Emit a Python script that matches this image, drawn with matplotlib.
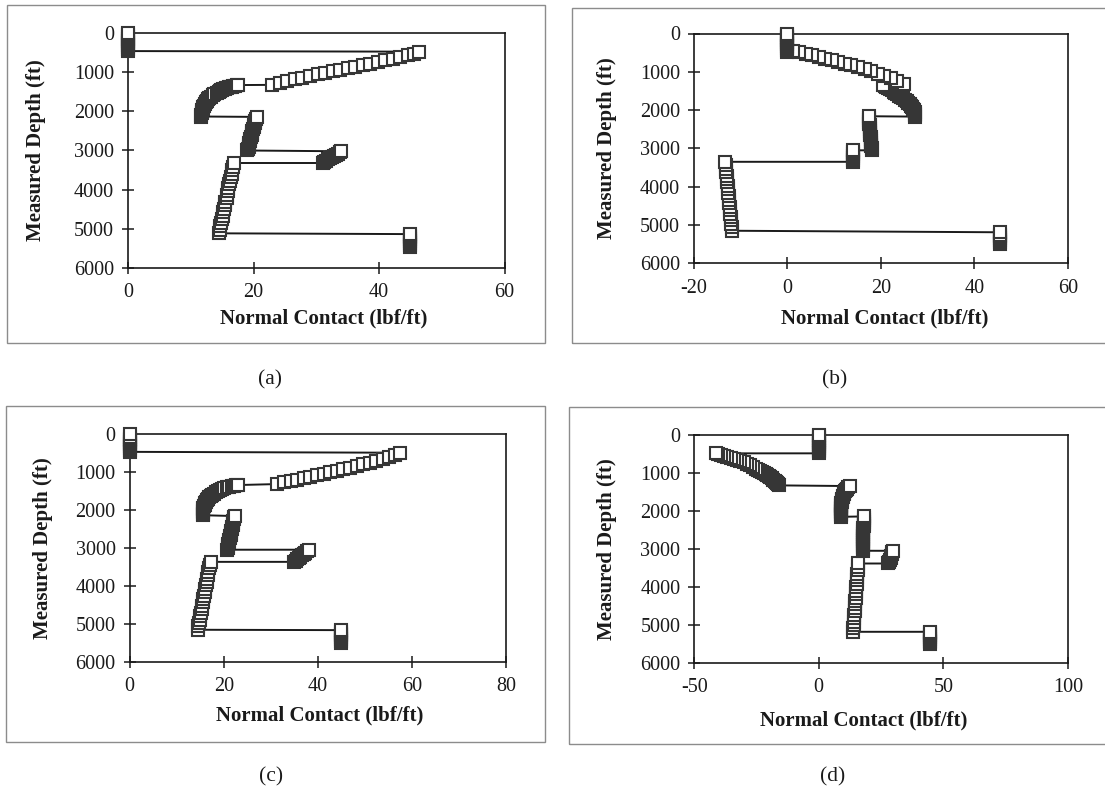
import matplotlib.pyplot as plt
from matplotlib.patches import Rectangle

plt.rcParams["font.family"] = ["Liberation Serif", "DejaVu Serif"]
plt.rcParams["axes.unicode_minus"] = False

# values listed from the bit (deepest) up to surface, one list pair per panel
depth_a = [5470, 5420, 5370, 5320, 5270, 5220, 5180, 5140,
           5120, 5030, 4940, 4850, 4760, 4670, 4580, 4490, 4400, 4310, 4220,
           4130, 4040, 3950, 3860, 3770, 3680, 3590, 3500, 3410, 3320,
           3320, 3290, 3260, 3230, 3200, 3170, 3140, 3110, 3080, 3050, 3020,
           3000, 2950, 2900, 2850, 2800, 2750, 2700, 2650, 2600, 2550, 2500,
           2450, 2400, 2350, 2300, 2250, 2200, 2140,
           2130, 2090, 2050, 2010, 1970, 1930, 1890, 1850, 1810, 1770, 1730,
           1692, 1655, 1620, 1585, 1552, 1520, 1490, 1476, 1462, 1449, 1436,
           1423, 1410, 1398, 1386, 1375, 1364, 1354, 1344, 1334, 1325,
           1320, 1268, 1220, 1175, 1132, 1090, 1050, 1010, 971, 932, 893, 854,
           815, 775, 735, 694, 652, 609, 565, 520, 470,
           455, 405, 355, 305, 255, 205, 155, 105, 55, 0]
force_a = [45.0, 45.0, 45.0, 45.0, 45.0, 45.0, 45.0, 45.0,
           14.5, 14.6, 14.7, 14.8, 15.0, 15.1, 15.2, 15.3, 15.4, 15.5, 15.7,
           15.8, 15.9, 16.0, 16.1, 16.3, 16.4, 16.5, 16.6, 16.8, 16.9,
           31.0, 31.3, 31.6, 31.9, 32.2, 32.5, 32.8, 33.1, 33.4, 33.7, 34.0,
           19.0, 19.1, 19.2, 19.3, 19.35, 19.4, 19.5, 19.6, 19.7, 19.75, 19.8,
           19.9, 20.0, 20.1, 20.2, 20.3, 20.4, 20.5,
           11.7, 11.7, 11.72, 11.75, 11.8, 11.88, 11.97, 12.08, 12.2, 12.35,
           12.52, 12.72, 12.95, 13.2, 13.48, 13.78, 14.1, 14.45, 14.63, 14.82,
           15.0, 15.2, 15.4, 15.6, 15.82, 16.05, 16.3, 16.55, 16.8, 17.05,
           17.32, 17.6,
           23.0, 24.2, 25.4, 26.6, 27.8, 29.0, 30.2, 31.4, 32.6, 33.8, 35.0,
           36.2, 37.4, 38.6, 39.8, 41.0, 42.2, 43.4, 44.6, 45.6, 46.4,
           0.0, 0.0, 0.0, 0.0, 0.0, 0.0, 0.0, 0.0, 0.0, 0.0]

depth_b = [5500, 5450, 5400, 5350, 5300, 5250, 5190,
           5150, 5060, 4970, 4880, 4790, 4700, 4610, 4520, 4430, 4340, 4250,
           4160, 4070, 3980, 3890, 3800, 3710, 3620, 3530, 3440, 3350,
           3350, 3300, 3250, 3200, 3150, 3100, 3050,
           3050, 3000, 2950, 2900, 2850, 2800, 2750, 2700, 2650, 2600, 2550,
           2500, 2450, 2400, 2350, 2300, 2250, 2200, 2160,
           2170, 2130, 2090, 2050, 2010, 1970, 1930, 1890, 1850, 1810, 1770,
           1730, 1692, 1655, 1620, 1585, 1550, 1515, 1482, 1450, 1420, 1392,
           1370, 1350,
           1322, 1240, 1170, 1105, 1045, 988, 935, 884, 835, 788, 742, 698,
           655, 612, 570, 528, 488, 450,
           480, 430, 380, 330, 280, 230, 180, 130, 80, 30, 0]
force_b = [45.5, 45.5, 45.5, 45.5, 45.5, 45.5, 45.5,
           -11.8, -11.9, -11.95, -12.0, -12.1, -12.2, -12.25, -12.3, -12.4,
           -12.45, -12.5, -12.6, -12.7, -12.75, -12.8, -12.9, -13.0, -13.05,
           -13.1, -13.2, -13.3,
           14.1, 14.1, 14.1, 14.1, 14.1, 14.1, 14.1,
           18.0, 18.0, 17.95, 17.9, 17.9, 17.85, 17.8, 17.8, 17.75, 17.7, 17.7,
           17.65, 17.6, 17.6, 17.55, 17.5, 17.5, 17.5, 17.5,
           27.3, 27.3, 27.25, 27.2, 27.1, 26.95, 26.75, 26.5, 26.2, 25.85,
           25.5, 25.1, 24.7, 24.3, 23.9, 23.5, 23.1, 22.7, 22.3, 21.9, 21.5,
           21.1, 20.8, 20.5,
           24.9, 23.5, 22.1, 20.7, 19.3, 17.9, 16.5, 15.1, 13.7, 12.3, 10.9,
           9.5, 8.1, 6.7, 5.3, 3.9, 2.5, 1.2,
           0.0, 0.0, 0.0, 0.0, 0.0, 0.0, 0.0, 0.0, 0.0, 0.0, 0.0]

depth_c = [5500, 5450, 5400, 5350, 5300, 5250, 5200, 5160,
           5150, 5060, 4970, 4880, 4790, 4700, 4610, 4520, 4430, 4340, 4250,
           4160, 4070, 3980, 3890, 3800, 3710, 3620, 3530, 3440, 3360,
           3360, 3325, 3290, 3255, 3220, 3185, 3150, 3115, 3078, 3040,
           3040, 2990, 2940, 2890, 2840, 2790, 2740, 2690, 2640, 2590, 2540,
           2490, 2440, 2390, 2340, 2290, 2240, 2190, 2153,
           2130, 2090, 2050, 2010, 1970, 1930, 1890, 1850, 1810, 1770, 1732,
           1695, 1660, 1625, 1592, 1560, 1530, 1500, 1472, 1446, 1421, 1398,
           1376, 1362, 1350, 1340, 1335,
           1309, 1268, 1228, 1189, 1150, 1111, 1072, 1033, 994, 954, 914, 873,
           831, 788, 744, 698, 650, 600, 545, 483,
           460, 410, 360, 310, 260, 210, 160, 110, 60, 0]
force_c = [44.8, 44.8, 44.8, 44.8, 44.8, 44.8, 44.8, 44.8,
           14.5, 14.6, 14.75, 14.9, 15.0, 15.15, 15.3, 15.4, 15.55, 15.7, 15.8,
           15.95, 16.1, 16.2, 16.35, 16.5, 16.6, 16.75, 16.9, 17.0, 17.2,
           34.9, 35.25, 35.6, 35.95, 36.3, 36.65, 37.0, 37.35, 37.7, 38.1,
           20.8, 20.9, 21.0, 21.0, 21.1, 21.2, 21.3, 21.4, 21.5, 21.5, 21.6,
           21.7, 21.8, 21.9, 22.0, 22.0, 22.1, 22.2, 22.3,
           15.5, 15.5, 15.52, 15.56, 15.62, 15.7, 15.8, 15.93, 16.08, 16.26,
           16.47, 16.71, 16.98, 17.28, 17.6, 17.95, 18.32, 18.72, 19.15, 19.6,
           20.08, 20.6, 21.15, 21.7, 22.2, 22.7, 23.1,
           31.4, 32.8, 34.2, 35.6, 37.0, 38.4, 39.8, 41.2, 42.6, 44.0, 45.4,
           46.8, 48.2, 49.6, 51.0, 52.4, 53.8, 55.2, 56.4, 57.5,
           0.0, 0.0, 0.0, 0.0, 0.0, 0.0, 0.0, 0.0, 0.0, 0.0]

depth_d = [5510, 5460, 5410, 5360, 5310, 5260, 5220, 5180,
           5180, 5090, 5000, 4910, 4820, 4730, 4640, 4550, 4460, 4370, 4280,
           4190, 4100, 4010, 3920, 3830, 3740, 3650, 3560, 3470, 3385,
           3385, 3335, 3285, 3235, 3185, 3140, 3095, 3052,
           3050, 3000, 2950, 2900, 2850, 2800, 2750, 2700, 2650, 2600, 2550,
           2500, 2450, 2400, 2350, 2300, 2250, 2200, 2148,
           2158, 2118, 2078, 2038, 1998, 1958, 1918, 1878, 1838, 1798, 1758,
           1718, 1678, 1638, 1598, 1560, 1522, 1486, 1450, 1416, 1382, 1350,
           1332, 1300, 1270, 1240, 1210, 1180, 1150, 1120, 1090, 1063, 1035,
           1005, 977, 950, 920, 893, 845, 805, 768, 730, 695, 665, 635, 605,
           578, 552, 527, 508, 490,
           490, 440, 390, 340, 290, 240, 190, 140, 90, 40, 0]
force_d = [44.8, 44.8, 44.8, 44.8, 44.8, 44.8, 44.8, 44.8,
           13.8, 13.9, 14.0, 14.1, 14.2, 14.3, 14.4, 14.5, 14.6, 14.7, 14.8,
           14.9, 15.0, 15.1, 15.2, 15.3, 15.4, 15.5, 15.6, 15.75, 15.9,
           28.0, 28.3, 28.6, 28.9, 29.2, 29.4, 29.6, 29.8,
           17.7, 17.72, 17.74, 17.77, 17.8, 17.82, 17.84, 17.86, 17.88, 17.9,
           17.92, 17.94, 17.96, 17.98, 18.0, 18.03, 18.06, 18.08, 18.1,
           8.8, 8.8, 8.8, 8.82, 8.84, 8.87, 8.9, 8.95, 9.02, 9.1, 9.2, 9.32,
           9.46, 9.62, 9.8, 10.0, 10.25, 10.52, 10.82, 11.15, 11.6, 12.4,
           -15.9, -16.3, -16.7, -17.2, -17.7, -18.2, -18.8, -19.4, -20.0,
           -20.6, -21.3, -22.0, -22.7, -23.4, -24.2, -25.0, -26.3, -27.6,
           -28.9, -30.2, -31.5, -32.8, -34.1, -35.4, -36.7, -38.0, -39.3,
           -40.3, -41.1,
           0.3, 0.3, 0.3, 0.3, 0.3, 0.3, 0.3, 0.3, 0.3, 0.3, 0.3]

xticks_a = [0, 20, 40, 60]
xticks_b = [-20, 0, 20, 40, 60]
xticks_c = [0, 20, 40, 60, 80]
xticks_d = [-50, 0, 50, 100]
depth_ticks = [0, 1000, 2000, 3000, 4000, 5000, 6000]

W, H = 1105, 794
fig = plt.figure(figsize=(W / 100, H / 100), dpi=100)


def panel(force, depth, xticks, box, frame, ylab_x, xlab_xy, tag, tag_xy):
    assert len(force) == len(depth)
    l, t, r, b = box
    ax = fig.add_axes([l / W, 1 - b / H, (r - l) / W, (b - t) / H])
    ax.plot(force, depth, color="#1a1a1a", lw=1.4, marker="s", ms=8.4,
            mfc="white", mec="#363636", mew=1.5, clip_on=False, zorder=5)
    ax.set_xlim(xticks[0], xticks[-1])
    ax.set_ylim(6000, 0)
    ax.set_xticks(xticks)
    ax.set_xticklabels([str(v) for v in xticks])
    ax.set_yticks(depth_ticks)
    ax.tick_params(direction="inout", length=8, width=1.1, labelsize=14.5,
                   colors="#1a1a1a")
    ax.tick_params(axis="x", pad=7)
    ax.tick_params(axis="y", pad=6)
    for s in ax.spines.values():
        s.set_linewidth(1.2)
        s.set_color("#1a1a1a")
    fig.text(ylab_x / W, 1 - (t + b) / 2 / H, "Measured Depth (ft)",
             rotation=90, ha="center", va="center", fontsize=15,
             fontweight="bold", color="#1a1a1a")
    fig.text(xlab_xy[0] / W, 1 - xlab_xy[1] / H, "Normal Contact (lbf/ft)",
             ha="center", va="center", fontsize=15, fontweight="bold",
             color="#1a1a1a")
    fig.text(tag_xy[0] / W, 1 - tag_xy[1] / H, tag, ha="center", va="center",
             fontsize=15.5, color="#1a1a1a")
    x0, y0, x1, y1 = frame
    fig.patches.append(Rectangle((x0 / W, 1 - y1 / H), (x1 - x0) / W,
                                 (y1 - y0) / H, transform=fig.transFigure,
                                 fill=False, ec="#8c8c8c", lw=1.0))


panel(force_a, depth_a, xticks_a, (128, 33.3, 504.6, 267.7), (7, 5, 545, 343),
      36, (324, 318), "(a)", (270, 380))
panel(force_b, depth_b, xticks_b, (693.8, 33.5, 1068, 263.3), (572, 8, 1110, 343),
      607, (885, 318), "(b)", (835, 380))
panel(force_c, depth_c, xticks_c, (129.5, 434.4, 506.3, 662), (6, 406, 545, 742),
      43, (320, 715), "(c)", (271, 777))
panel(force_d, depth_d, xticks_d, (694.2, 434.7, 1067.8, 663), (569, 407, 1110, 744),
      607, (864, 720), "(d)", (833, 777))

fig.savefig("out.png", dpi=100)
